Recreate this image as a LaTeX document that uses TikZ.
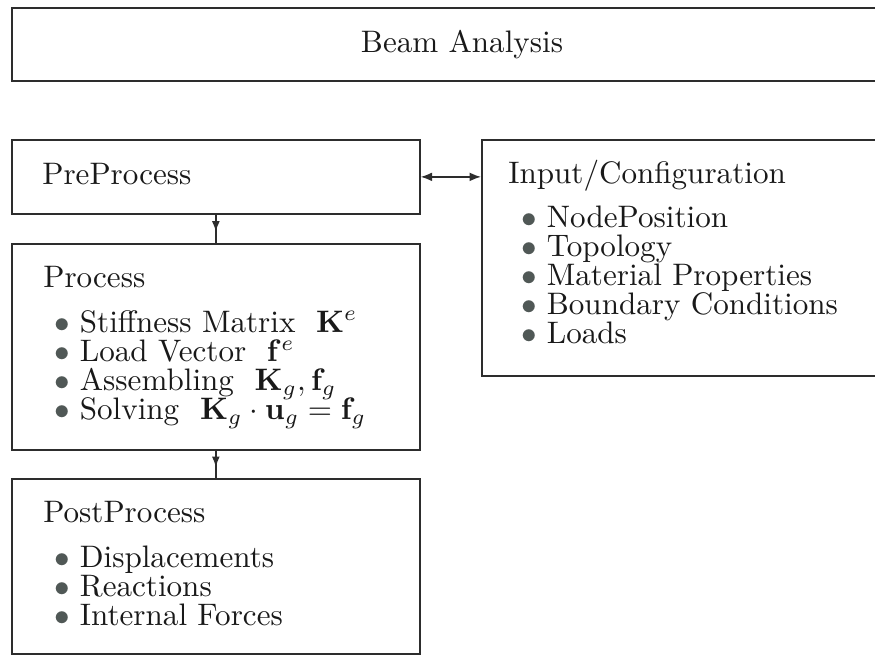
\documentclass[tikz,border=0pt]{standalone}
\usepackage{amsmath}
\usepackage{graphicx}
\usepackage{tikz}
\usetikzlibrary{positioning,arrows.meta,decorations.markings}
\definecolor{baLine}{RGB}{45,45,45}
\definecolor{baText}{RGB}{25,25,25}
\definecolor{baDot}{RGB}{80,88,86}
\newcommand{\bigtext}[1]{\scalebox{1.77}{#1}}
\newcommand{\dotmark}{\bigtext{\textcolor{baDot}{$\bullet$}}\hspace{0.2cm}}
\tikzset{
    base/.style={font=\fontsize{10}{12}\selectfont, text=baText, inner sep=0pt},
    panel/.style={rectangle, draw=baLine, line width=1pt, anchor=north west},
    heading/.style={base, anchor=base west},
    item/.style={base, anchor=base west},
    flow/.style={draw=baLine, line width=0.8pt, >={Latex[length=6.5pt,width=5pt]}},
    midtip/.style={decoration={markings, mark=at position 0.6 with {\arrow{Latex[length=6pt,width=4.5pt]}}},
                   postaction={decorate}}
}
\begin{document}
\begin{tikzpicture}[x=0.02cm, y=-0.02cm]
  \path[use as bounding box] (0,0) rectangle (875,657);
  \clip (0,0) rectangle (875,657);

  % Boxes
  \node[panel, minimum width=18.04cm, minimum height=1.46cm] (top) at (11,7) {};
  \node[panel, minimum width=8.16cm, minimum height=1.48cm] (pre) at (11,139) {};
  \node[panel, minimum width=8.16cm, minimum height=4.12cm] (proc) at (11,243) {};
  \node[panel, minimum width=8.16cm, minimum height=3.50cm] (post) at (11,478) {};
  \node[panel, minimum width=8.64cm, minimum height=4.72cm] (inp) at (481,139) {};

  % Headings
  \node[base, anchor=base] (ttl) at (462,52) {\bigtext{Beam Analysis}};
  \node[heading] (preT) at (42,184) {\bigtext{PreProcess}};
  \node[heading] (procT) at (43,287) {\bigtext{Process}};
  \node[heading] (postT) at (43,522) {\bigtext{PostProcess}};
  \node[heading] (inpT) at (508,183) {\bigtext{Input/Configuration}};

  % Lists
  \foreach \txt [count=\i from 0] in {%
      {Stiffness Matrix\ \ $\mathbf{K}^e$},
      {Load Vector\ \ $\mathbf{f}^e$},
      {Assembling\ \ $\mathbf{K}_g, \mathbf{f}_g$},
      {Solving\ \ $\mathbf{K}_g \cdot \mathbf{u}_g = \mathbf{f}_g$}}
    \node[item] (proc-\i) at (54,{332+29.3*\i}) {\dotmark\bigtext{\txt}};
  \foreach \txt [count=\i from 0] in {Displacements, Reactions, Internal Forces}
    \node[item] (post-\i) at (54,{567+29.3*\i}) {\dotmark\bigtext{\txt}};
  \foreach \txt [count=\i from 0] in {NodePosition, Topology, Material Properties,
      Boundary Conditions, Loads}
    \node[item] (inp-\i) at (521,{227+29.2*\i}) {\dotmark\bigtext{\txt}};

  % Connectors
  \draw[flow, <->] (pre.east) -- (pre.east -| inp.west);
  \draw[flow, midtip] (pre.south) -- (proc.north);
  \draw[flow, midtip] (proc.south) -- (post.north);
\end{tikzpicture}
\end{document}
